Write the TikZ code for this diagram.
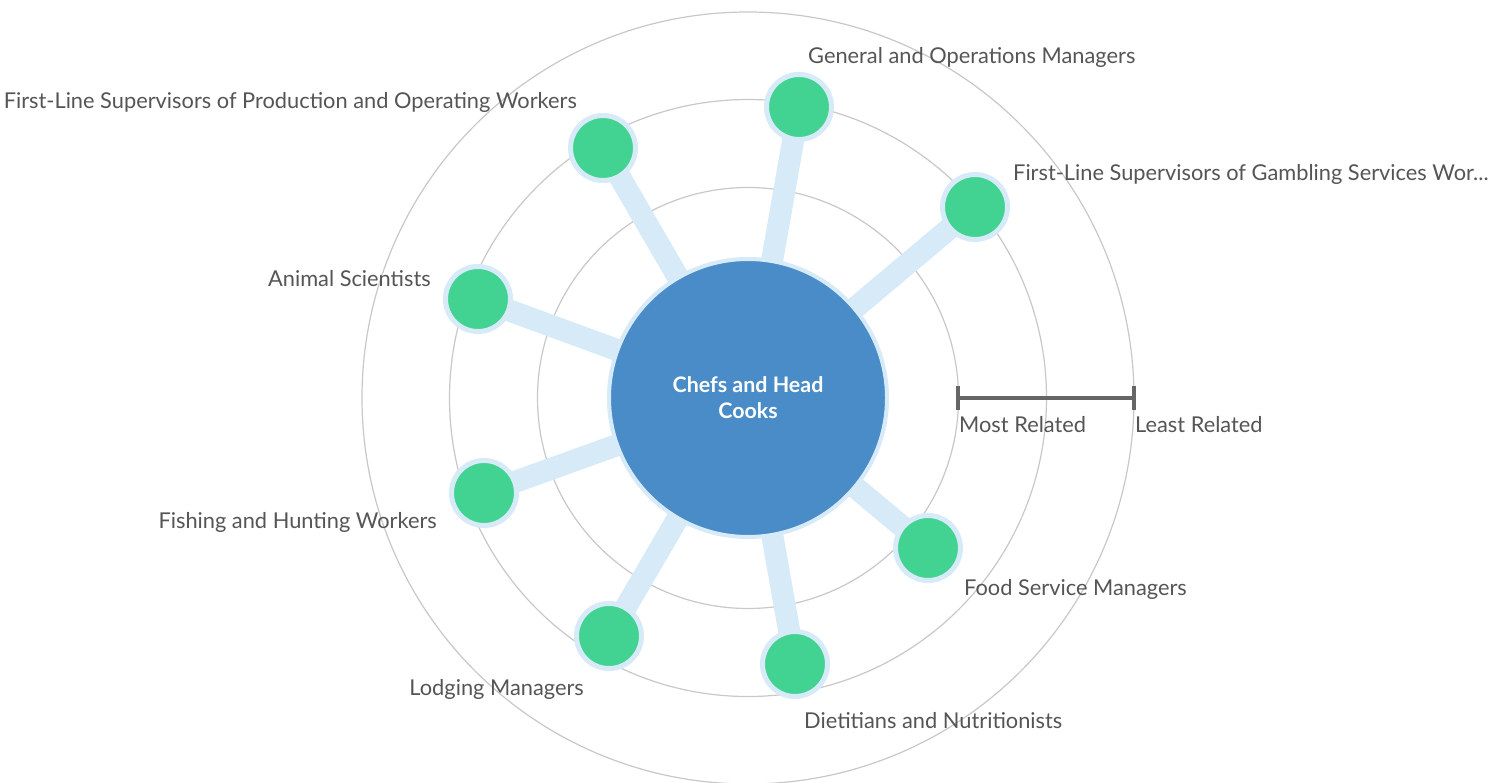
\documentclass[tikz,border=0pt]{standalone}
\usepackage{fontspec}
\setmainfont{Lato}
\usetikzlibrary{positioning,backgrounds}
\definecolor{jobgreen}{RGB}{66,211,146}
\definecolor{chefblue}{RGB}{74,140,199}
\definecolor{spokeblue}{RGB}{214,234,248}
\definecolor{ringgray}{RGB}{200,200,200}
\definecolor{labelgray}{RGB}{85,85,85}
\definecolor{bargray}{RGB}{102,102,102}

\begin{document}
\begin{tikzpicture}[x=1pt,y=-1pt,
		job/.style={circle,minimum size=65pt,inner sep=0pt,fill=jobgreen,draw=spokeblue,line width=5pt},
		lbl/.style={text=labelgray,font=\fontsize{21.8}{26}\selectfont,inner sep=0pt},
		spoke/.style={spokeblue,line width=22pt},
		ring/.style={ringgray,line width=1.2pt}]
		\useasboundingbox (0,0) rectangle (1489,783);
		
		\node[circle,minimum size=278pt,inner sep=0pt,fill=chefblue,draw=spokeblue,line width=4pt,text=white,font=\bfseries\fontsize{21.4}{26}\selectfont,align=center] (chef) at (748,398) {Chefs and Head\\Cooks};
		
		\node[job] (gen) at (799,107) {};
		\node[job] (prod) at (603,148) {};
		\node[job] (gamb) at (975,207) {};
		\node[job] (anim) at (478,299) {};
		\node[job] (fish) at (484,493) {};
		\node[job] (lodg) at (609,636) {};
		\node[job] (diet) at (795,664) {};
		\node[job] (food) at (928,548) {};
		
		\node[lbl,anchor=base west,shift={(9,-43)}] (genlbl) at (gen.center) {General and Operations Managers};
		\node[lbl,anchor=base east,shift={(-26,-39)}] (prodlbl) at (prod.center) {First-Line Supervisors of Production and Operating Workers};
		\node[lbl,anchor=base west,shift={(38,-26)}] (gamblbl) at (gamb.center) {First-Line Supervisors of Gambling Services Wor...};
		\node[lbl,anchor=base east,shift={(-47,-12)}] (animlbl) at (anim.center) {Animal Scientists};
		\node[lbl,anchor=base east,shift={(-47,35)}] (fishlbl) at (fish.center) {Fishing and Hunting Workers};
		\node[lbl,anchor=base east,shift={(-25,59)}] (lodglbl) at (lodg.center) {Lodging Managers};
		\node[lbl,anchor=base west,shift={(9,64)}] (dietlbl) at (diet.center) {Dietitians and Nutritionists};
		\node[lbl,anchor=base west,shift={(36,47)}] (foodlbl) at (food.center) {Food Service Managers};
		
		\coordinate (most) at (958,398);
		\coordinate (least) at (1134,398);
		\draw[bargray,line width=4.5pt] (most) -- (least);
		\draw[bargray,line width=4pt] (most) ++(0,-12) -- ++(0,24);
		\draw[bargray,line width=4pt] (least) ++(0,-12) -- ++(0,24);
		\node[lbl,anchor=base west,shift={(1,35)}] (mostlbl) at (most) {Most Related};
		\node[lbl,anchor=base west,shift={(1,35)}] (leastlbl) at (least) {Least Related};
		
		\begin{pgfonlayer}{background}
			\fill[white] (0,0) rectangle (1489,783);
			\foreach \r in {210.5,298.5,386}
				\draw[ring] (chef.center) circle[radius=\r pt];
			\foreach \j in {gen,prod,gamb,anim,fish,lodg,diet,food}
				\draw[spoke] (chef.center) -- (\j.center);
		\end{pgfonlayer}
	\end{tikzpicture}
\end{document}
